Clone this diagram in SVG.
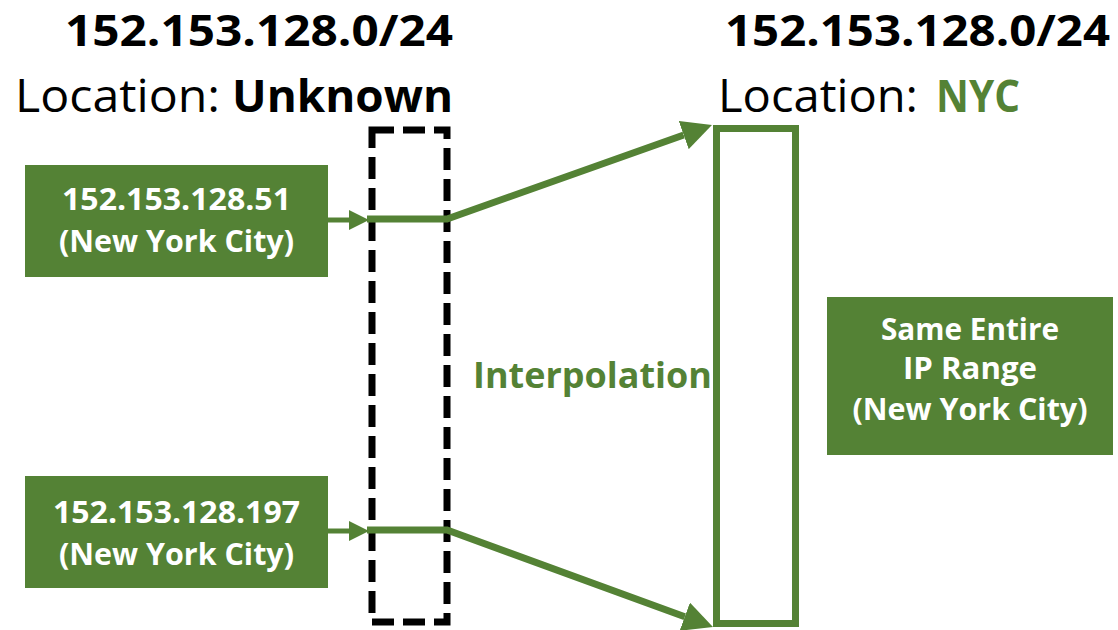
<svg xmlns="http://www.w3.org/2000/svg" width="1118" height="630" viewBox="0 0 1118 630">
<defs>
<style>
.box{fill:#548235;}
.bt{font-family:"Open Sans","Noto Sans",sans-serif;font-weight:bold;font-size:31px;fill:#ffffff;text-anchor:middle;}
.title{font-family:"Open Sans","Noto Sans",sans-serif;font-weight:bold;font-size:43px;fill:#000000;}
.loc{font-family:"Open Sans","Noto Sans",sans-serif;font-size:45px;fill:#000000;}
.locb{font-family:"Open Sans","Noto Sans",sans-serif;font-weight:bold;font-size:45px;}
.thin{stroke:#548235;stroke-width:5;fill:none;}
.thick{stroke:#548235;stroke-width:7;fill:none;}
</style>
<marker id="ahs" markerUnits="userSpaceOnUse" markerWidth="20" markerHeight="20" refX="0" refY="10" orient="auto">
<path d="M0,0 L20,10 L0,20 z" fill="#548235"/>
</marker>
<marker id="ahl" markerUnits="userSpaceOnUse" markerWidth="30" markerHeight="30" refX="0" refY="15" orient="auto">
<path d="M0,0 L30,15 L0,30 z" fill="#548235"/>
</marker>
</defs>
<rect width="1118" height="630" fill="#ffffff"/>

<g id="title-left">
<text class="title" x="65" y="46" textLength="388" lengthAdjust="spacingAndGlyphs">152.153.128.0/24</text>
<text class="loc" x="15" y="112" textLength="205" lengthAdjust="spacingAndGlyphs">Location:</text>
<text class="locb" x="232" y="112" fill="#000000" textLength="221" lengthAdjust="spacingAndGlyphs">Unknown</text>
</g>

<g id="title-right">
<text class="title" x="725" y="46" textLength="385" lengthAdjust="spacingAndGlyphs">152.153.128.0/24</text>
<text class="loc" x="718" y="112" textLength="200" lengthAdjust="spacingAndGlyphs">Location:</text>
<text class="locb" x="936" y="112" fill="#548235" textLength="84" lengthAdjust="spacingAndGlyphs">NYC</text>
</g>

<g id="ip51">
<rect class="box" x="25" y="165" width="303" height="112"/>
<text class="bt" x="176.5" y="210" textLength="229" lengthAdjust="spacingAndGlyphs">152.153.128.51</text>
<text class="bt" x="176.5" y="252" textLength="235" lengthAdjust="spacingAndGlyphs">(New York City)</text>
</g>

<g id="ip197">
<rect class="box" x="25" y="476" width="303" height="112"/>
<text class="bt" x="176.5" y="523" textLength="247" lengthAdjust="spacingAndGlyphs">152.153.128.197</text>
<text class="bt" x="176.5" y="565" textLength="235" lengthAdjust="spacingAndGlyphs">(New York City)</text>
</g>

<g id="unknown-range">
<rect x="372" y="130" width="75" height="492" fill="none" stroke="#000000" stroke-width="7" stroke-dasharray="22 9"/>
</g>

<g id="nyc-range">
<rect x="716.5" y="128.5" width="79" height="495" fill="none" stroke="#548235" stroke-width="7"/>
</g>

<g id="same-range">
<rect class="box" x="827" y="297" width="286" height="158"/>
<text class="bt" x="970" y="340" textLength="178" lengthAdjust="spacingAndGlyphs">Same Entire</text>
<text class="bt" x="970" y="379" textLength="134" lengthAdjust="spacingAndGlyphs">IP Range</text>
<text class="bt" x="970" y="420" textLength="235" lengthAdjust="spacingAndGlyphs">(New York City)</text>
</g>

<g id="interpolation-label">
<text x="473" y="388" font-family="'Open Sans','Noto Sans',sans-serif" font-weight="bold" font-size="36" fill="#548235" textLength="239" lengthAdjust="spacingAndGlyphs">Interpolation</text>
</g>

<g id="connectors">
<line class="thin" x1="328" y1="220" x2="349" y2="220" marker-end="url(#ahs)"/>
<line class="thin" x1="328" y1="531" x2="349" y2="531" marker-end="url(#ahs)"/>
<polyline class="thick" points="367,219 447,219 683.7,135" marker-end="url(#ahl)"/>
<polyline class="thick" points="367,530 447,530 684.8,616.7" marker-end="url(#ahl)"/>
</g>
</svg>
